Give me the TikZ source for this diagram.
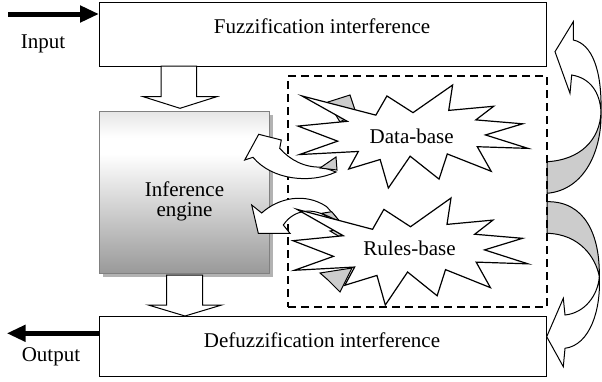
\documentclass[tikz,border=0pt]{standalone}
\usepackage{fontspec}
\setmainfont{Liberation Serif}
\usetikzlibrary{arrows.meta,shadows}
\pgfdeclareverticalshading{ieshade}{100bp}{color(0bp)=(black!40); color(25bp)=(black!40); color(62bp)=(white); color(67bp)=(white); color(75bp)=(black!10); color(100bp)=(black!10)}
\begin{document}
\begin{tikzpicture}[x=1pt,y=-1pt, font=\fontsize{21}{20.7}\selectfont,
  box/.style={draw, line width=1pt, fill=white, minimum width=447pt, anchor=north west, inner sep=0pt},
  blockarrow/.style={draw, fill=white, line width=1pt, line join=miter},
  backface/.style={draw, fill=black!20, line width=1pt, line join=miter},
  sealshape/.style={draw, fill=white, line width=1.2pt, line join=miter},
  thickarrow/.style={line width=5pt, -{Triangle[length=19pt,width=16pt]}},
  lbl/.style={anchor=base, inner sep=0pt},
  sealpath/.pic={\path[sealshape] (108,58) -- (145.22,0) -- (141.55,53.25) -- (183.8,44.57) -- (167.02,73.15) -- (210.97,81.37) -- (176.07,104.75) -- (216,132.9) -- (168.37,129.42) -- (181.45,180.95) -- (140.2,144.57) -- (132.47,197.37) -- (105.32,149.35) -- (84.85,216) -- (77.15,156.27) -- (47.62,176.17) -- (56.67,139.37) -- (1.35,145.87) -- (37.22,117.75) -- (0,86.15) -- (46.27,76.17) -- (3.7,22.95) -- (73.12,63.2) -- (83.52,22.95) -- cycle;}]
\useasboundingbox (0,0) rectangle (602,381);
\fill[white] (0,0) rectangle (602,381);

% main boxes
\node[box, minimum height=64pt] (fuzz) at (99,2) {};
\node[box, minimum height=60pt] (defuzz) at (99,316) {};
\node[lbl] (fuzztext) at (322,33) {Fuzzification interference};
\node[lbl] (defuzztext) at (322,347) {Defuzzification interference};

% inference engine
\node[draw=black!50, line width=1.2pt, shading=ieshade, minimum width=170pt, minimum height=162pt, anchor=north west, inner sep=0pt,
  drop shadow={shadow xshift=3pt, shadow yshift=-3pt, fill=black!30, opacity=1}] (ie) at (99,111) {};
\node[lbl] (ie1) at (184.5,196.7) {Inference};
\node[lbl] (ie2) at (184.5,216.7) {engine};

% block arrows down
\path[blockarrow] (161,66) -- (161,96.7) -- (143.3,96.7) -- (180,108.3) -- (216.7,96.7) -- (196.7,96.7) -- (196.7,66) -- cycle;
\path[blockarrow] (166.7,275) -- (166.7,305) -- (148.3,305) -- (185,316) -- (221.7,305) -- (202.7,305) -- (202.7,275) -- cycle;

% input / output
\coordinate (inStart) at (8,14);
\coordinate (inEnd) at (99,14);
\draw[thickarrow] (inStart) -- (inEnd);
\node[lbl] (intext) at (43,48.3) {Input};
\coordinate (outStart) at (99,333.3);
\coordinate (outEnd) at (6.7,333.3);
\draw[thickarrow] (outStart) -- (outEnd);
\node[lbl] (outtext) at (51,361) {Output};

% right curved arrows
\path[backface] (601,112) .. controls (600,140) and (580,160) .. (547,161.7) -- (547,193.3) .. controls (585,190) and (602,150) .. (601,112) -- cycle;
\path[blockarrow] (555,51.7) -- (573.3,21.7) -- (573.3,40) .. controls (592,44) and (602,70) .. (601,112) .. controls (600,92) and (590,78) .. (571.7,75) -- (570,93.3) -- cycle;
\path[backface] (547,201.7) .. controls (585,201) and (600,235) .. (599.3,276.7) .. controls (596,258) and (580,234) .. (547,233.3) -- cycle;
\path[blockarrow] (546.7,336.7) -- (563.3,298.3) -- (565,315) .. controls (585,313) and (598,295) .. (599.3,276.7) .. controls (601,310) and (590,345) .. (565,348.3) -- (563.3,366.7) -- cycle;

% knowledge base dashed frame
\node[draw, dash pattern=on 8pt off 5pt, line width=2pt, minimum width=259pt, minimum height=231pt, anchor=north west, inner sep=0pt] (kb) at (287,75) {};

% left curved arrows with back faces
\path[backface] (328,102) -- (350,95) -- (356,113) -- (340,122) -- cycle;
\path[blockarrow] (244.7,160) -- (258.7,134.3) -- (281.3,140) -- (279.7,148.3) .. controls (290,160) and (305,168) .. (322,167) -- (336,172) .. controls (310,184) and (272,180) .. (253,157.3) -- cycle;
\path[backface] (320,168) -- (336,157) -- (337,170) -- cycle;

\path[blockarrow] (251.7,205) -- (261.7,213) .. controls (278,198) and (305,192) .. (326.7,206.7) -- (340,221.7) -- (334,222) .. controls (320,208) and (296,206) .. (283.3,225) -- (290,233.3) -- (258.3,233.3) -- cycle;
\path[backface] (321.7,213.3) -- (331.7,211.7) -- (340,221.7) -- cycle;
\path[backface] (330,231) -- (341,229) -- (340,237) -- cycle;
\path[backface] (320,273) -- (352,268) -- (340,292) -- (328,280) -- cycle;

% explosions
\begin{scope}[shift={(298,85)}, x=1.0648pt, y=-0.47685pt]
  \pic {sealpath};
\end{scope}
\node[lbl] (dbtext) at (411.7,143.3) {Data-base};
\begin{scope}[shift={(293,198)}, x=1.08796pt, y=-0.49537pt]
  \pic {sealpath};
\end{scope}
\node[lbl] (rbtext) at (409.5,255) {Rules-base};
\end{tikzpicture}
\end{document}
